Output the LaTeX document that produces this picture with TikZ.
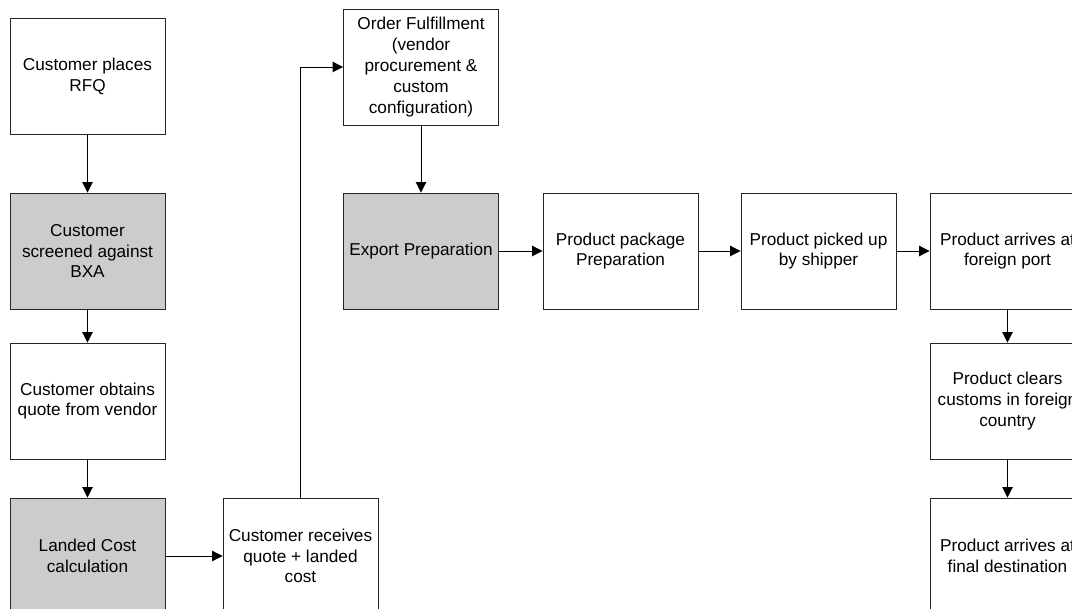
\documentclass[tikz,border=0pt]{standalone}
\usepackage{fontspec}
\setmainfont{Liberation Sans}
\usetikzlibrary{arrows.meta}
\tikzset{
  box/.style={draw=black!85, line width=0.9pt, fill=white, minimum width=155pt, minimum height=116pt,
    inner sep=0pt, align=center, font=\fontsize{17.2}{20.8}\selectfont},
  shaded/.style={box, fill=black!20},
  flow/.style={draw=black, line width=0.9pt, -{Triangle[length=10.5pt,width=10.5pt]}}
}
\begin{document}
\begin{tikzpicture}[x=1pt,y=-1pt]
\useasboundingbox (0,0) rectangle (1072,609);
\clip (0,0) rectangle (1072,609);
\fill[white] (0,0) rectangle (1072,609);
\node[box]    (rfq)      at (87.5,76.5) {Customer places\\RFQ};
\node[shaded] (bxa)      at (87.5,251)  {Customer\\screened against\\BXA};
\node[box]    (quote)    at (87.5,401)  {Customer obtains\\quote from vendor};
\node[shaded] (landed)   at (87.5,556)  {Landed Cost\\calculation};
\node[box]    (receives) at (300.5,556) {Customer receives\\quote + landed\\cost};
\node[box]    (order)    at (421,67)    {Order Fulfillment\\(vendor\\procurement \&\\custom\\configuration)};
\node[shaded] (export)   at (421,251)   {Export Preparation};
\node[box]    (package)  at (620.5,251) {Product package\\Preparation};
\node[box]    (pickup)   at (818.5,251) {Product picked up\\by shipper};
\node[box]    (port)     at (1007.5,251) {Product arrives at\\foreign port};
\node[box]    (clears)   at (1007.5,401) {Product clears\\customs in foreign\\country};
\node[box]    (final)    at (1007.5,556) {Product arrives at\\final destination};
\draw[flow] (rfq) -- (bxa);
\draw[flow] (bxa) -- (quote);
\draw[flow] (quote) -- (landed);
\draw[flow] (landed) -- (receives);
\draw[flow] (receives.north) |- (order.west);
\draw[flow] (order) -- (export);
\draw[flow] (export) -- (package);
\draw[flow] (package) -- (pickup);
\draw[flow] (pickup) -- (port);
\draw[flow] (port) -- (clears);
\draw[flow] (clears) -- (final);
\end{tikzpicture}
\end{document}
